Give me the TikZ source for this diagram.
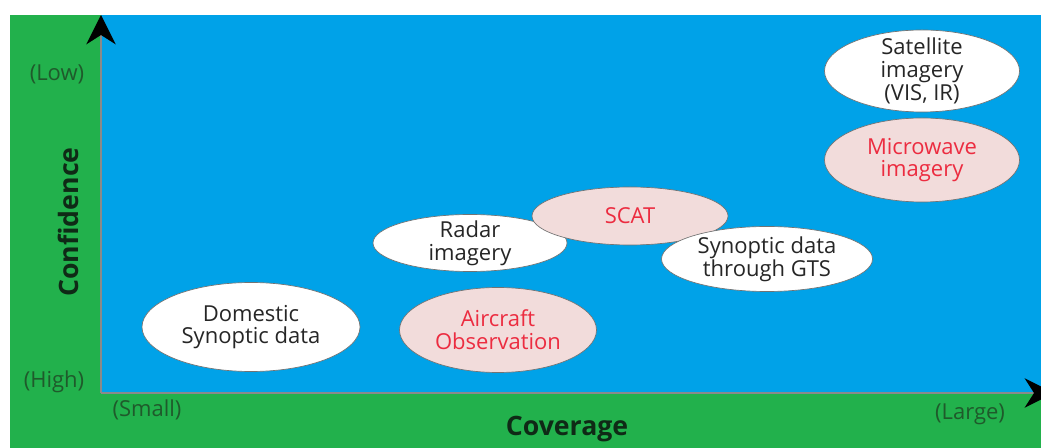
\documentclass[tikz,border=0pt]{standalone}
\usepackage{fontspec}
\setmainfont{Open Sans}
\usetikzlibrary{shapes.geometric,arrows.meta}

\definecolor{bggreen}{HTML}{22B14C}
\definecolor{plotblue}{HTML}{00A2E8}
\definecolor{pinkfill}{HTML}{F2DCDB}
\definecolor{redtext}{HTML}{EC2C40}
\definecolor{axisgray}{HTML}{8A8A8A}
\definecolor{tagcol}{HTML}{1F5A2B}
\definecolor{titlecol}{HTML}{0F2A16}

\begin{document}
\begin{tikzpicture}[
    x=0.75pt, y=-0.75pt,
    every node/.style={font=\fontsize{16.5}{17}\selectfont, align=center},
    obs/.style={ellipse, draw=black!55, line width=0.5pt, fill=white,
        inner xsep=0pt, inner ysep=-6pt, text=black!85},
    newobs/.style={obs, fill=pinkfill, text=redtext},
    ax/.style={draw=axisgray, line width=1.6pt,
        -{Stealth[length=22pt, width=22pt, inset=7pt, color=black]}},
    tag/.style={font=\fontsize{16.5}{17}\selectfont, text=tagcol},
    title/.style={font=\fontsize{20}{22}\selectfont\bfseries, text=titlecol},
]
    \useasboundingbox (0,0) rectangle (1041,448);

    % Background
    \fill[bggreen] (10,15) rectangle (1041,448);
    \fill[plotblue] (101,15) rectangle (1041,392);

    % Axes
    \coordinate (origin) at (101,393);
    \coordinate (ytop)   at (101,15);
    \coordinate (xend)   at (1054,393);
    \draw[ax] (origin) -- (ytop);
    \draw[ax] (origin) -- (xend);

    % Axis titles and ends
    \node[title, rotate=90] (conf) at (68,222) {Confidence};
    \node[title]            (cov)  at (567,429) {Coverage};
    \node[tag] (low)   at (57,74)   {(Low)};
    \node[tag] (high)  at (54,382)  {(High)};
    \node[tag] (small) at (147,410) {(Small)};
    \node[tag] (large) at (970,414) {(Large)};

    % Data sources
    \node[obs, minimum width=163.5pt, minimum height=66.75pt]
        (dom) at (251,327) {Domestic\\Synoptic data};
    \node[obs, minimum width=145.5pt, minimum height=42.75pt]
        (radar) at (470,243) {Radar\\imagery};
    \node[newobs, minimum width=147pt, minimum height=43.5pt]
        (scat) at (630,216) {SCAT};
    \node[obs, minimum width=158.25pt, minimum height=48.75pt]
        (gts) at (767,259) {Synoptic data\\through GTS};
    \node[newobs, minimum width=147.75pt, minimum height=63.75pt]
        (air) at (498,330) {Aircraft\\Observation};
    \node[obs, minimum width=146.25pt, minimum height=61.5pt]
        (sat) at (922,71) {Satellite\\imagery\\(VIS, IR)};
    \node[newobs, minimum width=146.25pt, minimum height=63pt]
        (mw) at (922,160) {Microwave\\imagery};
\end{tikzpicture}
\end{document}
